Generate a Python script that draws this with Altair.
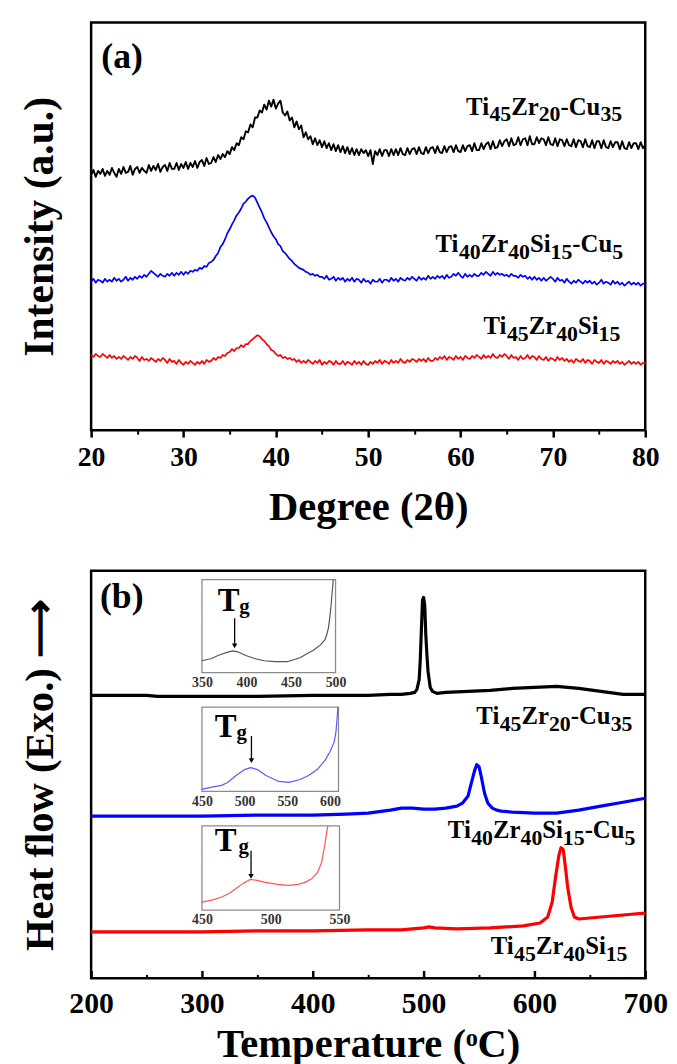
import altair as alt
import pandas as pd

FONT = "Liberation Serif"

# ---------------- (a) XRD data (intensity in arbitrary units) ----------------
xrd_two_theta = [20 + 0.25 * i for i in range(241)]

xrd_ti45zr20cu35 = [
    258, 263, 256, 262, 259, 264, 257, 262, 258, 265, 260, 256, 264, 259, 266, 260,
    261, 267, 258, 264, 266, 260, 265, 262, 260, 268, 262, 267, 263, 269, 261, 266,
    268, 262, 270, 264, 264, 270, 263, 269, 265, 271, 264, 270, 266, 272, 265, 271,
    273, 267, 275, 269, 270, 276, 271, 278, 274, 279, 276, 282, 279, 286, 283, 290,
    288, 296, 294, 302, 301, 309, 306, 316, 316, 323, 321, 329, 324, 333, 327, 334,
    325, 330, 333, 321, 318, 322, 313, 316, 306, 312, 304, 308, 296, 301, 294, 297,
    289, 295, 288, 293, 286, 292, 285, 290, 283, 289, 282, 288, 281, 287, 280, 286,
    279, 285, 278, 284, 278, 284, 280, 283, 277, 283, 269, 282, 278, 284, 277, 283,
    283, 277, 284, 278, 284, 278, 285, 279, 278, 285, 279, 284, 285, 279, 286, 280,
    279, 286, 280, 285, 286, 280, 287, 281, 280, 287, 281, 286, 287, 281, 288, 282,
    281, 288, 282, 287, 288, 282, 290, 283, 283, 290, 284, 289, 291, 284, 292, 285,
    286, 293, 287, 292, 294, 287, 295, 288, 289, 296, 288, 294, 295, 288, 297, 289,
    289, 296, 290, 295, 294, 288, 296, 289, 288, 295, 287, 294, 293, 287, 294, 288,
    287, 294, 286, 293, 292, 286, 294, 287, 286, 293, 285, 292, 292, 285, 293, 286,
    285, 292, 286, 291, 291, 284, 292, 285, 284, 291, 285, 290, 290, 284, 291, 285,
    288,
]

xrd_ti40zr40si15cu5 = [
    150, 153, 149, 152, 151, 149, 153, 150, 152, 150, 154, 151, 153, 150, 152, 155,
    151, 154, 152, 155, 153, 156, 154, 157, 155, 158, 161, 159, 157, 155, 158, 156,
    155, 158, 156, 159, 156, 159, 157, 160, 157, 160, 158, 161, 160, 162, 161, 164,
    163, 166, 165, 169, 170, 172, 176, 179, 185, 188, 193, 199, 203, 208, 212, 217,
    220, 224, 229, 231, 234, 236, 237, 235, 230, 225, 220, 214, 210, 205, 200, 196,
    193, 188, 186, 181, 179, 176, 173, 171, 168, 166, 164, 163, 162, 160, 159, 157,
    158, 156, 157, 155, 155, 153, 156, 152, 153, 155, 151, 154, 152, 154, 150, 153,
    151, 154, 150, 153, 152, 149, 153, 150, 151, 148, 152, 150, 150, 153, 149, 152,
    152, 150, 154, 151, 153, 150, 154, 152, 151, 154, 152, 155, 153, 151, 155, 152,
    154, 152, 156, 153, 155, 153, 156, 154, 156, 153, 157, 154, 155, 158, 156, 159,
    156, 154, 158, 155, 157, 155, 158, 156, 156, 159, 157, 160, 158, 156, 160, 157,
    159, 157, 158, 156, 157, 155, 158, 156, 156, 154, 157, 155, 156, 153, 155, 152,
    155, 152, 154, 151, 154, 151, 153, 155, 153, 150, 154, 151, 152, 149, 153, 150,
    148, 151, 149, 152, 150, 148, 151, 149, 151, 148, 150, 147, 149, 152, 148, 150,
    149, 147, 151, 148, 150, 147, 149, 146, 148, 150, 147, 149, 147, 149, 146, 148,
    148,
]

xrd_ti45zr40si15 = [
    76, 74, 77, 75, 74, 77, 75, 73, 76, 73, 75, 72, 74, 72, 75, 73,
    71, 74, 72, 75, 73, 70, 74, 71, 72, 70, 73, 71, 69, 72, 70, 73,
    71, 68, 72, 69, 70, 67, 71, 68, 66, 69, 67, 70, 68, 66, 69, 67,
    70, 67, 71, 69, 70, 73, 71, 74, 73, 76, 75, 78, 79, 82, 80, 83,
    83, 86, 84, 87, 87, 90, 92, 94, 96, 95, 92, 90, 87, 85, 81, 80,
    77, 75, 76, 73, 74, 72, 73, 71, 72, 69, 71, 68, 70, 68, 71, 69,
    67, 70, 68, 71, 66, 69, 67, 70, 69, 66, 70, 67, 67, 70, 66, 69,
    68, 66, 70, 67, 69, 66, 70, 67, 66, 69, 67, 70, 68, 71, 67, 70,
    69, 67, 71, 68, 70, 68, 72, 69, 68, 71, 69, 72, 71, 69, 72, 70,
    72, 69, 73, 70, 70, 73, 71, 74, 72, 75, 71, 74, 73, 71, 75, 72,
    74, 71, 75, 73, 72, 75, 73, 76, 74, 72, 76, 73, 75, 73, 77, 74,
    73, 76, 74, 77, 75, 72, 76, 73, 74, 71, 75, 72, 73, 76, 72, 75,
    74, 71, 75, 72, 71, 74, 70, 73, 72, 70, 74, 71, 73, 70, 72, 69,
    71, 68, 72, 70, 69, 72, 68, 71, 70, 67, 71, 69, 68, 71, 67, 70,
    69, 67, 70, 68, 70, 67, 69, 66, 68, 70, 67, 69, 67, 69, 66, 68,
    68,
]

# sample names: alternating element / subscript pieces
sample_parts = [
    ["Ti", "45", "Zr", "20", "-Cu", "35"],
    ["Ti", "40", "Zr", "40", "Si", "15", "-Cu", "5"],
    ["Ti", "45", "Zr", "40", "Si", "15"],
]
xrd_label_x = [77.5, 77.6, 77.3]      # right end of each name (2θ)
xrd_label_y = [319, 180, 97]          # baseline of each name

# ---------------- (b) DSC data (heat flow in arbitrary units) ----------------
dsc_temp_cu35 = [200, 250, 260, 300, 350, 400, 450, 470, 480, 488, 492, 494, 496, 497,
                 498, 499, 500, 501, 502, 503, 504, 506, 508, 512, 520, 540, 560, 580,
                 600, 620, 640, 660, 680, 700]
dsc_hf_cu35 = [286, 286, 285, 285, 285, 286, 286, 287, 287, 288, 289, 292, 302, 322,
               352, 382, 385, 377, 347, 327, 310, 294, 290, 288, 289, 290, 291, 293,
               294, 295, 293, 290, 287, 287]

dsc_temp_si15cu5 = [200, 250, 300, 350, 400, 430, 450, 470, 480, 490, 500, 510, 520, 530,
                    535, 540, 543, 546, 548, 550, 552, 555, 558, 562, 566, 570, 580, 600,
                    620, 640, 660, 680, 700]
dsc_hf_si15cu5 = [164, 164, 164, 165, 165, 166, 167, 170, 172, 172, 171, 171, 172, 174,
                  177, 184, 197, 210, 216, 214, 204, 187, 177, 172, 170, 169, 168, 167,
                  167, 170, 174, 178, 182]

dsc_temp_si15 = [200, 250, 300, 350, 400, 450, 480, 500, 505, 510, 530, 560, 590, 605,
                 612, 616, 619, 622, 624, 626, 628, 630, 633, 636, 640, 650, 670, 690, 700]
dsc_hf_si15 = [47, 47, 47, 48, 48, 49, 49, 51, 52, 51, 50, 51, 53, 56,
               62, 77, 102, 124, 132, 130, 112, 92, 72, 62, 60, 61, 63, 65, 66]

dsc_label_x = [688.4, 691.1, 684.0]
dsc_label_y = [257, 142, 25]

# insets (Tg region)
inset1_temp = [350, 360, 370, 380, 385, 390, 400, 410, 420, 432, 446, 460, 476, 483,
               488, 490, 492, 493.5, 495, 496, 497, 497.5]
inset1_hf = [12, 14, 18, 21, 22, 21, 17, 14, 12, 11, 11, 15, 23, 28,
             33, 38, 45, 55, 68, 79, 89, 94]
inset2_temp = [450, 460, 473, 480, 490, 500, 507, 515, 525, 540, 552, 565, 575, 585,
               594, 600, 605, 607, 608.5, 609.2]
inset2_hf = [2, 4, 6, 9, 16, 22, 24, 22, 16, 10, 9, 12, 16, 22,
             31, 40, 50, 60, 75, 85]
inset3_temp = [450, 457, 464, 470, 474, 480, 485, 490, 496, 505, 513, 520, 525, 530,
               534, 537, 539, 540.5, 541.5]
inset3_hf = [8, 10, 13, 17, 21, 27, 31, 30, 28, 26, 25, 26, 28, 32,
             38, 48, 63, 77, 85]
inset_tg_temp = [386.7, 508.0, 485.7]

# ---------------- layout / style ----------------
W, H = 560, 412
BLACK, BLUE, RED = "#000000", "#0000ff", "#ff0000"
MAIN_SIZE, SUB_SIZE, SUB_DROP = 25, 22, 7
# Times-Bold advance widths (em) used to lay the name pieces side by side
ADV = {"T": .667, "i": .278, "Z": .667, "r": .444, "S": .556, "C": .722, "u": .556,
       "-": .333}


def piece_width(s, size):
    return sum(ADV.get(ch, 0.5) for ch in s) * size


def sc(domain, rng=None):
    if rng is None:
        return alt.Scale(domain=domain, nice=False, zero=False)
    return alt.Scale(domain=domain, range=rng, nice=False, zero=False)


def curve(df, color, width, xs, ys, xaxis=None, yaxis=None):
    return alt.Chart(df).mark_line(color=color, strokeWidth=width, strokeJoin="round").encode(
        x=alt.X("x:Q", scale=xs, axis=xaxis),
        y=alt.Y("y:Q", scale=ys, axis=yaxis),
    )


def texts(df, xs, ys, size, align, baseline="middle", dx=0, dy=0, color="black"):
    return alt.Chart(df).mark_text(
        align=align, baseline=baseline, font=FONT, fontWeight="bold",
        fontSize=size, color=color, dx=dx, dy=dy,
    ).encode(
        x=alt.X("x:Q", scale=xs, axis=None),
        y=alt.Y("y:Q", scale=ys, axis=None),
        text="t:N",
    )


def name_layers(xs, ys, xright, ybase):
    layers = []
    for parts, xr, yb in zip(sample_parts, xright, ybase):
        sizes = [MAIN_SIZE if k % 2 == 0 else SUB_SIZE for k in range(len(parts))]
        total = sum(piece_width(p, s) for p, s in zip(parts, sizes))
        off = -total
        for k, (p, s) in enumerate(zip(parts, sizes)):
            layers.append(texts(pd.DataFrame({"x": [xr], "y": [yb], "t": [p]}), xs, ys, s,
                                "left", baseline="alphabetic", dx=round(off, 1),
                                dy=0 if k % 2 == 0 else SUB_DROP))
            off += piece_width(p, s)
    return layers


# ---------------- panel (a) ----------------
xs_a = sc([20, 80])
ys_a = sc([0, 412])

ax_a_major = alt.Axis(orient="bottom", values=list(range(20, 81, 10)), format="d",
                      title="Degree (2θ)", tickSize=7, tickWidth=2.5, tickColor="black",
                      labelFontSize=28, labelPadding=7, labelFlush=False,
                      titleFontSize=41, titlePadding=16, domain=False, grid=False)
ax_a_minor = alt.Axis(orient="bottom", values=list(range(25, 80, 10)), labels=False,
                      tickSize=4, tickWidth=2, tickColor="black", domain=False,
                      grid=False, title=None)
ay_a = alt.Axis(orient="left", title="Intensity (a.u.)", labels=False, ticks=False,
                domain=False, grid=False, titleFontSize=42, titlePadding=30)

a_black = curve(pd.DataFrame({"x": xrd_two_theta, "y": xrd_ti45zr20cu35}), BLACK, 1.9,
                xs_a, ys_a, ax_a_major, ay_a)
a_blue = curve(pd.DataFrame({"x": xrd_two_theta, "y": xrd_ti40zr40si15cu5}), BLUE, 1.7,
               xs_a, ys_a, ax_a_minor, None)
a_red = curve(pd.DataFrame({"x": xrd_two_theta, "y": xrd_ti45zr40si15}), RED, 1.7,
              xs_a, ys_a, None, None)
a_tag = texts(pd.DataFrame({"x": [21.1], "y": [377], "t": ["(a)"]}), xs_a, ys_a, 36, "left")

panel_a = alt.layer(a_black, a_blue, a_red, a_tag,
                    *name_layers(xs_a, ys_a, xrd_label_x, xrd_label_y)).resolve_scale(
    x="independent", y="independent").properties(width=W, height=H)

# ---------------- panel (b) ----------------
xs_b = sc([200, 700])
ys_b = sc([0, 412])

ax_b_lab = alt.Axis(orient="bottom", values=list(range(200, 701, 100)), format="d",
                    title="Temperature (ᵒC)", ticks=False, tickSize=0,
                    labelFontSize=30, labelPadding=11, labelFlush=False,
                    titleFontSize=41, titlePadding=6, domain=False, grid=False)
ax_b_major = alt.Axis(orient="top", offset=-H, values=list(range(200, 701, 100)),
                      labels=False, tickSize=8, tickWidth=2.5, tickColor="black",
                      domain=False, grid=False, title=None)
ax_b_minor = alt.Axis(orient="top", offset=-H, values=list(range(250, 700, 100)),
                      labels=False, tickSize=4, tickWidth=2, tickColor="black",
                      domain=False, grid=False, title=None)
ay_b = alt.Axis(orient="left", title="Heat flow (Exo.) ⟶", labels=False, ticks=False,
                domain=False, grid=False, titleFontSize=41, titlePadding=30)

b_black = curve(pd.DataFrame({"x": dsc_temp_cu35, "y": dsc_hf_cu35}), BLACK, 3.2,
                xs_b, ys_b, ax_b_lab, ay_b)
b_blue = curve(pd.DataFrame({"x": dsc_temp_si15cu5, "y": dsc_hf_si15cu5}), BLUE, 3.2,
               xs_b, ys_b, ax_b_major, None)
b_red = curve(pd.DataFrame({"x": dsc_temp_si15, "y": dsc_hf_si15}), RED, 3.2,
              xs_b, ys_b, ax_b_minor, None)
b_tag = texts(pd.DataFrame({"x": [208], "y": [385], "t": ["(b)"]}), xs_b, ys_b, 36, "left")

INSETS = [
    dict(temp=inset1_temp, hf=inset1_hf, xdom=[350, 500], xr=[112, 247], ydom=[0, 94],
         yr=[103, 9], ticks=[350, 400, 450, 500], color="#555555",
         T=(380, 72), g=(392, 66), arrow=(55, 29, 27)),
    dict(temp=inset2_temp, hf=inset2_hf, xdom=[450, 610], xr=[112, 250], ydom=[0, 85],
         yr=[223, 138], ticks=[450, 500, 550, 600], color="#5a5aff",
         T=(477.8, 65), g=(490.6, 59), arrow=(56, 33, 31)),
    dict(temp=inset3_temp, hf=inset3_hf, xdom=[450, 550], xr=[112, 251], ydom=[0, 85],
         yr=[343, 258], ticks=[450, 500, 550], color="#ff5555",
         T=(467.3, 70), g=(476.6, 64), arrow=(60, 36, 34)),
]

inset_layers = []
for k, ins in enumerate(INSETS):
    xs = sc(ins["xdom"], ins["xr"])
    ys = sc(ins["ydom"], ins["yr"])
    frame_df = pd.DataFrame({"x": [ins["xdom"][0]], "x2": [ins["xdom"][1]],
                             "y": [ins["ydom"][0]], "y2": [ins["ydom"][1]]})
    frame = alt.Chart(frame_df).mark_rect(fill="white", stroke="#8c8c8c",
                                          strokeWidth=1.3).encode(
        x=alt.X("x:Q", scale=xs,
                axis=alt.Axis(orient="bottom", offset=-(H - ins["yr"][0]),
                              values=ins["ticks"], format="d", ticks=False,
                              labelFontSize=14, labelColor="#333333", labelPadding=3,
                              labelFlush=False, domain=False, grid=False, title=None)),
        x2="x2:Q",
        y=alt.Y("y:Q", scale=ys, axis=None),
        y2="y2:Q",
    )
    line = curve(pd.DataFrame({"x": ins["temp"], "y": ins["hf"]}), ins["color"], 1.2,
                 xs, ys, None, None)
    t_lab = texts(pd.DataFrame({"x": [ins["T"][0]], "y": [ins["T"][1]], "t": ["T"]}),
                  xs, ys, 33, "center")
    g_lab = texts(pd.DataFrame({"x": [ins["g"][0]], "y": [ins["g"][1]], "t": ["g"]}),
                  xs, ys, 21, "left")
    ar = ins["arrow"]
    arrow_df = pd.DataFrame({"x": [inset_tg_temp[k]], "y": [ar[0]], "y2": [ar[1]],
                             "yh": [ar[2]]})
    shaft = alt.Chart(arrow_df).mark_rule(color="black", strokeWidth=1.3).encode(
        x=alt.X("x:Q", scale=xs, axis=None),
        y=alt.Y("y:Q", scale=ys, axis=None),
        y2="y2:Q",
    )
    head = alt.Chart(arrow_df).mark_point(shape="triangle-down", filled=True, size=30,
                                          color="black", opacity=1).encode(
        x=alt.X("x:Q", scale=xs, axis=None),
        y=alt.Y("yh:Q", scale=ys, axis=None),
    )
    inset_layers += [frame, line, t_lab, g_lab, shaft, head]

panel_b = alt.layer(b_black, b_blue, b_red, b_tag,
                    *name_layers(xs_b, ys_b, dsc_label_x, dsc_label_y),
                    *inset_layers).resolve_scale(
    x="independent", y="independent").properties(width=W, height=H)

chart = alt.vconcat(panel_a, panel_b, spacing=40).properties(
    padding={"left": 9, "top": 7, "right": 0, "bottom": 0}
).configure_axis(
    labelFont=FONT, titleFont=FONT, labelFontWeight="bold", titleFontWeight="bold",
    labelColor="black", titleColor="black",
).configure_view(stroke="black", strokeWidth=2.5)

chart.save("out.html", embed_options={"renderer": "svg", "actions": False})
